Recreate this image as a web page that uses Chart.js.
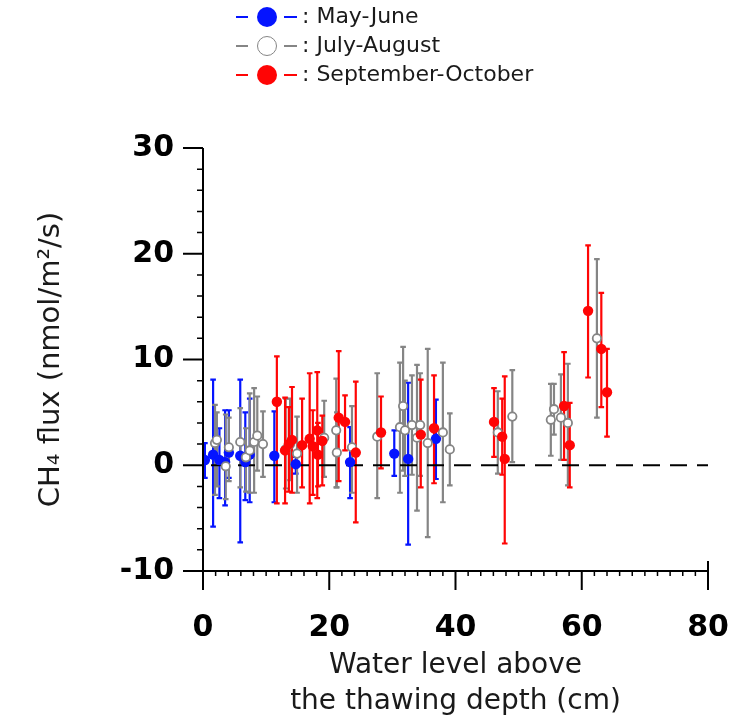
<!DOCTYPE html>
<html><head><meta charset="utf-8">
<script src="https://cdn.jsdelivr.net/npm/chart.js@4.4.1/dist/chart.umd.min.js"></script>
<style>
html,body{margin:0;padding:0;background:#fff;}
#wrap{position:relative;width:749px;height:721px;overflow:hidden;}
#legend{position:absolute;left:0;top:0;width:749px;height:100px;font-family:"DejaVu Sans",sans-serif;font-size:22px;color:#1a1a1a;}
.ln{position:absolute;height:2px;}
.dot{position:absolute;width:20px;height:20px;border-radius:50%;box-sizing:border-box;}
.txt{position:absolute;line-height:1;white-space:nowrap;}
canvas{position:absolute;left:0;top:0;}
</style></head>
<body>
<div id="wrap"><canvas id="c" width="749" height="721"></canvas><div id="legend"></div></div>
<script>
// ---- data ----
const legendLabels = ['May-June', 'July-August', 'September-October'];
const xTickValues = [0, 20, 40, 60, 80];
const yTickValues = [-10, 0, 10, 20, 30];

const mayX  = [0.3, 1.6, 2.6, 3.5, 4.1, 5.9, 6.7, 7.4, 11.3, 14.7, 23.3, 30.3, 32.5, 36.9];
const mayY  = [0.5, 1.0, 0.5, 0.3, 1.2, 0.9, 0.3, 1.0, 0.9, 0.1, 0.3, 1.1, 0.6, 2.5];
const mayLo = [-1.2, -5.8, -3.1, -3.8, -1.2, -7.3, -3.3, -3.5, -3.5, -0.8, -3.1, -1.0, -7.5, -1.3];
const mayHi = [2.1, 8.1, 3.5, 5.2, 5.2, 8.1, 5.0, 6.3, 5.1, 0.8, 3.6, 3.3, 7.8, 6.2];

const julX  = [1.9, 2.2, 3.6, 4.1, 5.9, 6.8, 7.4, 8.1, 8.6, 9.5, 13.1, 13.8, 14.9, 19.2, 21.1, 21.2, 23.6, 27.6, 31.2, 31.7, 32.0, 33.1, 33.9, 34.4, 35.6, 38.0, 39.1, 46.7, 49.0, 55.1, 55.6, 56.7, 57.8, 62.4];
const julY  = [2.1, 2.4, -0.1, 1.7, 2.2, 0.75, 1.4, 2.2, 2.8, 2.0, 1.5, 2.0, 1.1, 2.6, 3.3, 1.2, 1.7, 2.7, 3.6, 5.6, 3.3, 3.8, 2.6, 3.8, 2.1, 3.1, 1.5, 3.1, 4.6, 4.3, 5.3, 4.5, 4.0, 12.0];
const julLo = [-2.8, -2.0, -3.2, -1.5, -2.1, -2.5, -2.6, -2.6, -0.5, -1.1, -2.2, -1.4, -2.6, -1.1, -2.1, -2.1, -2.6, -3.1, -2.6, -0.5, -1.0, -0.9, -4.3, -1.0, -6.8, -3.5, -1.9, -0.8, 0.3, 0.9, 2.9, 0.5, -1.9, 4.5];
const julHi = [5.7, 5.0, 4.8, 4.5, 5.4, 3.5, 6.8, 7.3, 6.5, 5.1, 6.3, 6.3, 4.6, 6.1, 8.2, 5.0, 5.6, 8.7, 9.7, 11.2, 8.0, 8.5, 9.5, 8.7, 11.0, 9.7, 4.9, 7.0, 9.0, 7.7, 7.7, 8.6, 9.6, 19.5];

const sepX  = [11.7, 13.0, 13.6, 14.1, 15.7, 16.9, 17.4, 18.1, 18.2, 18.9, 21.5, 22.5, 24.2, 28.2, 34.5, 36.6, 46.1, 47.4, 47.8, 57.2, 58.1, 61.0, 63.1, 64.0];
const sepY  = [6.0, 1.4, 2.0, 2.4, 1.9, 2.5, 1.8, 3.3, 1.0, 2.3, 4.5, 4.1, 1.2, 3.1, 2.9, 3.5, 4.1, 2.7, 0.6, 5.6, 1.9, 14.6, 11.0, 6.9];
const sepLo = [-3.6, -3.6, -2.5, -2.6, -2.1, -3.6, -2.8, -3.1, -2.0, -1.9, -1.5, 1.4, -5.4, -0.3, -2.1, -1.7, 0.8, -0.9, -7.4, 0.5, -2.1, 8.3, 5.5, 2.7];
const sepHi = [10.3, 6.4, 5.5, 7.4, 6.3, 8.7, 5.2, 8.8, 4.0, 4.7, 10.8, 6.6, 7.9, 6.5, 8.1, 8.5, 7.3, 6.3, 8.4, 10.7, 5.9, 20.8, 16.3, 11.0];

// ---- styles ----
const BLUE = '#0514ff', GRAY = '#858585', RED = '#ff0505';

function pts(xs, ys, lo, hi) {
  return xs.map((x, i) => ({x: x, y: ys[i], lo: lo[i], hi: hi[i]}));
}

// legend (HTML text)
const legendStyles = [
  {line: BLUE, fill: BLUE, stroke: BLUE},
  {line: GRAY, fill: '#fff', stroke: GRAY},
  {line: RED, fill: RED, stroke: RED}
];
const legendEl = document.getElementById('legend');
const rowY = [17, 46, 75];
legendLabels.forEach((lab, i) => {
  const st = legendStyles[i];
  const cy = rowY[i];
  const l1 = document.createElement('div'); l1.className = 'ln';
  l1.style.cssText = `left:236px;width:12px;top:${cy-1}px;background:${st.line}`;
  const d = document.createElement('div'); d.className = 'dot';
  d.style.cssText = `left:257px;top:${cy-10}px;background:${st.fill};border:${i===1?1.5:0}px solid ${st.stroke}`;
  const l2 = document.createElement('div'); l2.className = 'ln';
  l2.style.cssText = `left:284px;width:13px;top:${cy-1}px;background:${st.line}`;
  const t = document.createElement('div'); t.className = 'txt';
  t.textContent = ': ' + lab;
  t.style.cssText = `left:302px;top:${cy-12}px`;
  legendEl.append(l1, d, l2, t);
});

// plugin: error bars, zero line, axes with ticks
const decor = {
  id: 'decor',
  beforeDatasetsDraw(chart) {
    const ctx = chart.ctx, xs = chart.scales.x, ys = chart.scales.y;
    const order = [2, 1, 0];
    ctx.save();
    order.forEach(di => {
      const ds = chart.data.datasets[di];
      ctx.strokeStyle = ds.barColor;
      ctx.lineWidth = 2.2;
      ds.data.forEach(p => {
        const px = xs.getPixelForValue(p.x);
        const y1 = ys.getPixelForValue(p.lo), y2 = ys.getPixelForValue(p.hi);
        ctx.beginPath();
        ctx.moveTo(px, y1); ctx.lineTo(px, y2);
        ctx.moveTo(px - 2.8, y1); ctx.lineTo(px + 2.8, y1);
        ctx.moveTo(px - 2.8, y2); ctx.lineTo(px + 2.8, y2);
        ctx.stroke();
      });
    });
    // dashed zero line
    const y0 = ys.getPixelForValue(0);
    ctx.strokeStyle = '#000';
    ctx.lineWidth = 2;
    ctx.setLineDash([17, 10]);
    ctx.lineDashOffset = -8;
    ctx.beginPath();
    ctx.moveTo(xs.getPixelForValue(0), y0);
    ctx.lineTo(xs.getPixelForValue(80), y0);
    ctx.stroke();
    ctx.restore();
  },
  afterDraw(chart) {
    const ctx = chart.ctx, xs = chart.scales.x, ys = chart.scales.y;
    const ax = xs.getPixelForValue(0), ay = ys.getPixelForValue(-10);
    const top = ys.getPixelForValue(30), right = xs.getPixelForValue(80);
    ctx.save();
    ctx.strokeStyle = '#000';
    ctx.lineWidth = 2;
    ctx.beginPath();
    ctx.moveTo(ax, top); ctx.lineTo(ax, ay + 19);
    ctx.moveTo(ax - 20, ay); ctx.lineTo(right, ay);
    yTickValues.forEach(v => { const py = ys.getPixelForValue(v); ctx.moveTo(ax - 20, py); ctx.lineTo(ax, py); });
    xTickValues.forEach(v => { const px = xs.getPixelForValue(v); ctx.moveTo(px, v === 80 ? ay - 10 : ay); ctx.lineTo(px, ay + 19); });
    ctx.stroke();
    ctx.lineWidth = 1.5;
    ctx.beginPath();
    for (let v = -8; v < 30; v += 2) {
      if (v % 10 === 0) continue;
      const py = ys.getPixelForValue(v); ctx.moveTo(ax - 6, py); ctx.lineTo(ax, py);
    }
    for (let v = 2; v < 80; v += 2) {
      if (v % 20 === 0) continue;
      const px = xs.getPixelForValue(v); ctx.moveTo(px, ay); ctx.lineTo(px, ay + 5);
    }
    ctx.stroke();
    ctx.restore();
  }
};

const tickFont = {family: '"DejaVu Sans", sans-serif', size: 30, weight: 'bold', lineHeight: 1.2};
const titleFontX = {family: '"DejaVu Sans", sans-serif', size: 28, weight: 'normal', lineHeight: 1.286};
const titleFontY = {family: '"DejaVu Sans", sans-serif', size: 29, weight: 'normal', lineHeight: 1.2};

new Chart(document.getElementById('c'), {
  type: 'scatter',
  data: {
    datasets: [
      {label: legendLabels[2], data: pts(sepX, sepY, sepLo, sepHi), barColor: RED,
       backgroundColor: RED, borderColor: RED, borderWidth: 0, pointRadius: 5.2, pointHoverRadius: 5.2},
      {label: legendLabels[1], data: pts(julX, julY, julLo, julHi), barColor: GRAY,
       backgroundColor: '#fff', borderColor: GRAY, borderWidth: 1.8, pointRadius: 4.2, pointHoverRadius: 4.2},
      {label: legendLabels[0], data: pts(mayX, mayY, mayLo, mayHi), barColor: BLUE,
       backgroundColor: BLUE, borderColor: BLUE, borderWidth: 0, pointRadius: 5.2, pointHoverRadius: 5.2}
    ]
  },
  options: {
    responsive: false,
    animation: false,
    events: [],
    layout: {padding: {top: 148, left: 0, right: 41, bottom: 0}},
    plugins: {legend: {display: false}, tooltip: {enabled: false}},
    scales: {
      x: {
        type: 'linear', min: 0, max: 80,
        afterFit: s => { s.height = 150; s.paddingLeft = 0; s.paddingRight = 0; },
        afterBuildTicks: s => { s.ticks = xTickValues.map(v => ({value: v})); },
        grid: {display: false, drawTicks: false},
        border: {display: false},
        ticks: {color: '#000', font: tickFont, padding: 39, maxRotation: 0},
        title: {display: true, text: ['Water level above', 'the thawing depth (cm)'], color: '#1a1a1a', font: titleFontX, padding: {bottom: 1, top: 0}}
      },
      y: {
        type: 'linear', min: -10, max: 30,
        afterFit: s => { s.width = 203; s.paddingTop = 0; s.paddingBottom = 0; },
        afterBuildTicks: s => { s.ticks = yTickValues.map(v => ({value: v})); },
        grid: {display: false, drawTicks: false},
        border: {display: false},
        ticks: {color: '#000', font: tickFont, padding: 29},
        title: {display: true, text: 'CH\u2084 flux (nmol/m\u00b2/s)', color: '#1a1a1a', font: titleFontY, padding: {top: 34, bottom: 0}}
      }
    }
  },
  plugins: [decor]
});
</script>
</body></html>
